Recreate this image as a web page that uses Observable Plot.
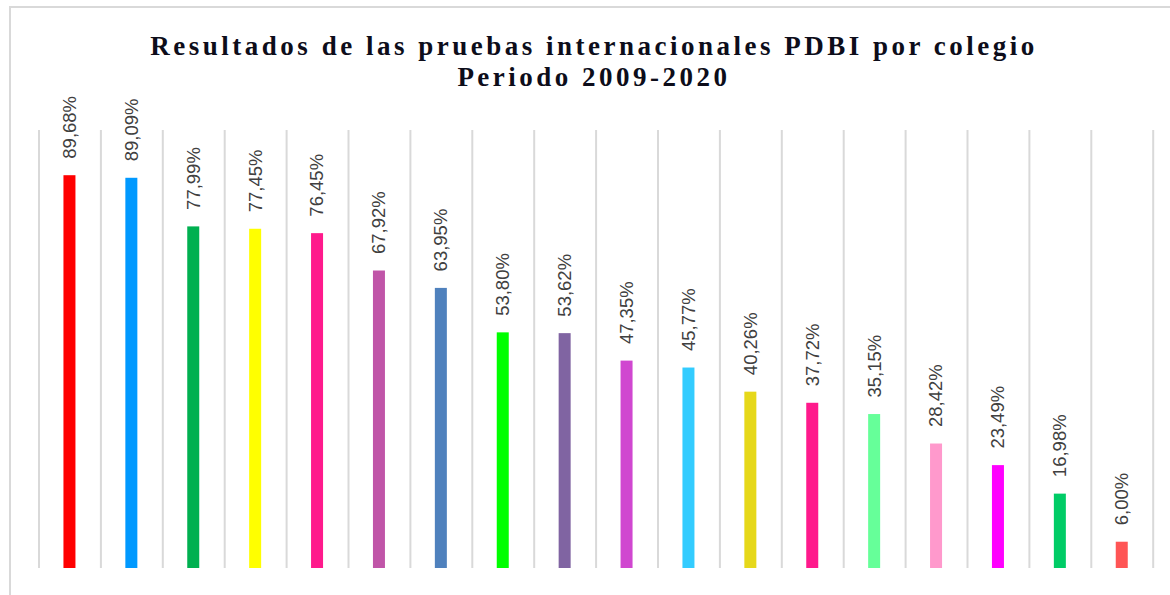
<!DOCTYPE html>
<html>
<head>
<meta charset="utf-8">
<script src="https://cdn.jsdelivr.net/npm/d3@7"></script>
<script src="https://cdn.jsdelivr.net/npm/@observablehq/plot@0.6"></script>
<style>
  html, body { margin: 0; padding: 0; background: #fff; }
  #wrap { position: relative; width: 1170px; height: 595px; overflow: hidden; }
  #frame { position: absolute; left: 9px; top: 6px; width: 1200px; height: 700px;
           border-top: 2px solid #d9d9d9; border-left: 2px solid #d9d9d9; }
  #title { position: absolute; left: 0; top: 31px; width: 1188px; text-align: center;
           font-family: "Liberation Serif", "Times New Roman", serif; font-weight: bold;
           font-size: 27px; letter-spacing: 3.5px; line-height: 31px; color: #0d0d1a; }
  #chart { position: absolute; left: 0; top: 0; }
</style>
</head>
<body>
<div id="wrap">
  <div id="frame"></div>
  <div id="title">Resultados de las pruebas internacionales PDBI por colegio<br>Periodo 2009-2020</div>
  <div id="chart"></div>
</div>
<script>
const colegios = ["C1","C2","C3","C4","C5","C6","C7","C8","C9","C10","C11","C12","C13","C14","C15","C16","C17","C18"];
const resultados = [89.68, 89.09, 77.99, 77.45, 76.45, 67.92, 63.95, 53.80, 53.62, 47.35, 45.77, 40.26, 37.72, 35.15, 28.42, 23.49, 16.98, 6.00];
const colores = ["#ff0000","#0099ff","#00b050","#ffff00","#ff1a8c","#c055a8","#4f81bd","#00ff00","#8064a2","#d047d0","#33ccff","#e6d81a","#ff1a8c","#66ff99","#ff99cc","#ff00ff","#00cc66","#ff5555"];

const data = colegios.map((c, i) => ({colegio: c, valor: resultados[i], color: colores[i]}));
const fmt = v => v.toFixed(2).replace(".", ",") + "%";

const W = 1170, H = 595, mL = 38.5, mR = 17.3;
const step = (W - mL - mR) / colegios.length;
const barW = 12;
const inset = (step - barW) / 2;

const chart = Plot.plot({
  width: W, height: H,
  marginLeft: mL, marginRight: mR, marginTop: 130, marginBottom: 27,
  style: {background: "transparent", overflow: "visible"},
  x: {domain: colegios, padding: 0, round: false, axis: null},
  y: {domain: [0, 100], axis: null},
  marks: [
    Plot.ruleX(colegios, {x: d => d, dx: -step / 2, stroke: "#d9d9d9", strokeWidth: 2}),
    Plot.ruleX([colegios[colegios.length - 1]], {x: d => d, dx: step / 2, stroke: "#d9d9d9", strokeWidth: 2}),
    Plot.barY(data, {x: "colegio", y: "valor", fill: "color", insetLeft: inset, insetRight: inset}),
    Plot.text(data, {x: "colegio", y: "valor", text: d => fmt(d.valor), rotate: -90, textAnchor: "start",
      dy: -17, fontSize: 18.5, fill: "#404040", fontFamily: "Liberation Sans, Arial, sans-serif"})
  ]
});
document.getElementById("chart").appendChild(chart);
</script>
</body>
</html>
